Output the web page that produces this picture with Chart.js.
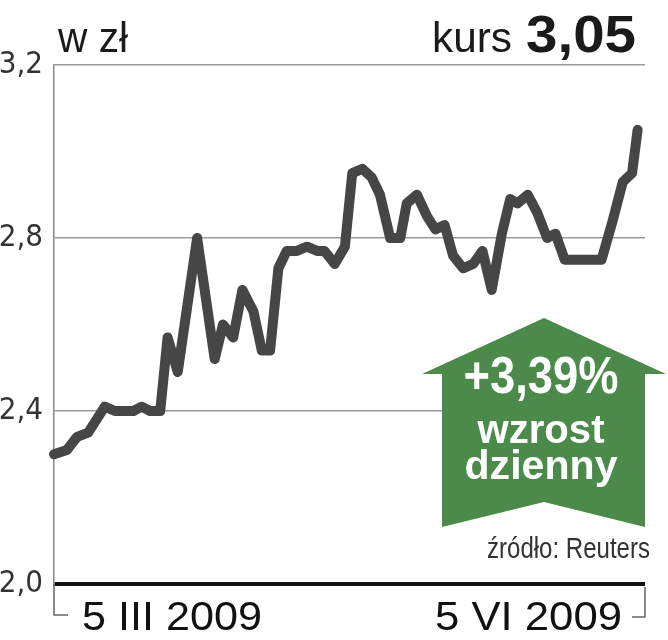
<!DOCTYPE html>
<html>
<head>
<meta charset="utf-8">
<script src="https://cdn.jsdelivr.net/npm/chart.js@4"></script>
<style>
  html, body { margin: 0; padding: 0; background: #fff; }
  #chart { display: block; }
</style>
</head>
<body>
<canvas id="chart" width="668" height="640"></canvas>
<script>
// notowania: dzien sesji (od 5 III 2009) i kurs w zl
const days = [0, 1.4, 2.5, 3.7, 5.5, 6.6, 8.6, 9.5, 10.4, 11.5, 12.3, 13.4, 15.5, 17.4, 18.3, 19.4,
    20.4, 21.6, 22.5, 23.4, 24.3, 25.2, 26.3, 27.4, 28.5, 29.3, 30.4, 31.5, 32.3, 33.4, 34.4, 35.3,
    36.4, 37.5, 38.2, 39.3, 40.4, 41.3, 42.3, 43.2, 44.3, 45.4, 46.4, 47.4, 48.5, 49.4, 50.2, 51.3,
    52.3, 53.4, 54.3, 55.3, 56.4, 59.3, 60.5, 61.6, 62.6, 63.2];
const prices = [2.30, 2.31, 2.34, 2.35, 2.41, 2.40, 2.40, 2.41, 2.40, 2.40, 2.57, 2.49, 2.80, 2.52, 2.60, 2.57,
    2.68, 2.63, 2.54, 2.54, 2.73, 2.77, 2.77, 2.78, 2.77, 2.77, 2.74, 2.78, 2.95, 2.96, 2.94, 2.90,
    2.80, 2.80, 2.88, 2.90, 2.85, 2.82, 2.83, 2.76, 2.73, 2.74, 2.77, 2.68, 2.81, 2.89, 2.88, 2.90,
    2.86, 2.80, 2.81, 2.75, 2.75, 2.75, 2.84, 2.93, 2.95, 3.05];
const yTicks = [2.0, 2.4, 2.8, 3.2];
const xLabels = ['5 III 2009', '5 VI 2009'];
const unitLabel = 'w zł';
const kursLabel = 'kurs';
const kursValue = '3,05';
const changeLines = ['+3,39%', 'wzrost', 'dzienny'];
const sourceLabel = 'źródło: Reuters';

const FONT = "'Liberation Sans', Arial, sans-serif";
const TICK_FONT = "'DejaVu Sans Condensed', 'Liberation Sans', sans-serif";
const GREEN = '#4b8a4b';

// tekst sciesniony w poziomie do zadanej szerokosci (krój waski jak w gazecie)
function fitText(ctx, text, x, y, align, width) {
    const m = ctx.measureText(text).width;
    ctx.save();
    ctx.translate(x, y);
    ctx.scale(width / m, 1);
    ctx.textAlign = align;
    ctx.fillText(text, 0, 0);
    ctx.restore();
}

// napisy, strzalka i klamry osi x
const decorations = {
    id: 'decorations',
    afterDraw(chart) {
        const ctx = chart.ctx;
        const area = chart.chartArea;
        ctx.save();
        ctx.textBaseline = 'alphabetic';

        // naglowek
        ctx.fillStyle = '#1a1a1a';
        ctx.font = '43px ' + FONT;
        fitText(ctx, unitLabel, 58, 52, 'left', 70);
        fitText(ctx, kursLabel, 512, 52, 'right', 80);
        ctx.font = 'bold 52px ' + FONT;
        fitText(ctx, kursValue, 636, 52, 'right', 110);

        // strzalka
        ctx.fillStyle = GREEN;
        ctx.beginPath();
        ctx.moveTo(544, 318);
        ctx.lineTo(666, 374);
        ctx.lineTo(645, 374);
        ctx.lineTo(645, 527);
        ctx.lineTo(544, 502);
        ctx.lineTo(442, 527);
        ctx.lineTo(442, 374);
        ctx.lineTo(422, 374);
        ctx.closePath();
        ctx.fill();

        ctx.fillStyle = '#fff';
        ctx.font = 'bold 51px ' + FONT;
        fitText(ctx, changeLines[0], 541, 393, 'center', 155);
        ctx.font = 'bold 41px ' + FONT;
        fitText(ctx, changeLines[1], 541, 443, 'center', 127);
        fitText(ctx, changeLines[2], 541, 479, 'center', 153);

        // zrodlo
        ctx.fillStyle = '#333';
        ctx.font = '29px ' + FONT;
        fitText(ctx, sourceLabel, 650, 558, 'right', 163);

        // klamry i daty
        const x0 = chart.scales.x.getPixelForValue(chart.scales.x.min);
        const x1 = chart.scales.x.getPixelForValue(chart.scales.x.max);
        ctx.strokeStyle = '#666';
        ctx.lineWidth = 1.5;
        ctx.beginPath();
        ctx.moveTo(x0, area.bottom);
        ctx.lineTo(x0, 615);
        ctx.lineTo(x0 + 14, 615);
        ctx.moveTo(x1, area.bottom + 3);
        ctx.lineTo(x1, 617);
        ctx.lineTo(x1 - 13, 617);
        ctx.stroke();

        ctx.fillStyle = '#111';
        ctx.font = '40px ' + FONT;
        fitText(ctx, xLabels[0], x0 + 28, 630, 'left', 180);
        fitText(ctx, xLabels[1], x1 - 23, 630, 'right', 187);

        ctx.restore();
    }
};

new Chart(document.getElementById('chart'), {
    type: 'line',
    data: {
        datasets: [{
            data: days.map((d, i) => ({ x: d, y: prices[i] })),
            borderColor: '#464646',
            borderWidth: 10,
            borderJoinStyle: 'round',
            borderCapStyle: 'round',
            pointRadius: 0,
            tension: 0,
            clip: false,
        }]
    },
    options: {
        responsive: false,
        animation: false,
        layout: {
            padding: { left: 0, top: 65, right: 23, bottom: 56 },
        },
        scales: {
            x: {
                type: 'linear',
                min: 0,
                max: 64,
                display: false,
            },
            y: {
                min: 2.0,
                max: 3.2,
                afterBuildTicks: (scale) => {
                    scale.ticks = yTicks.map(v => ({ value: v }));
                },
                afterFit: (scale) => {
                    scale.width = 54;
                },
                ticks: {
                    padding: 11,
                    color: '#333',
                    font: { family: TICK_FONT, size: 31 },
                    callback: (v) => v.toFixed(1).replace('.', ','),
                },
                grid: {
                    drawTicks: false,
                    color: (c) => c.tick && c.tick.value === 2 ? '#111' : '#9a9a9a',
                    lineWidth: (c) => c.tick && c.tick.value === 2 ? 4 : 1.5,
                },
                border: {
                    display: true,
                    color: '#888',
                    width: 1.5,
                },
            }
        },
        plugins: {
            legend: { display: false },
            tooltip: { enabled: false },
        },
    },
    plugins: [decorations],
});
</script>
</body>
</html>
